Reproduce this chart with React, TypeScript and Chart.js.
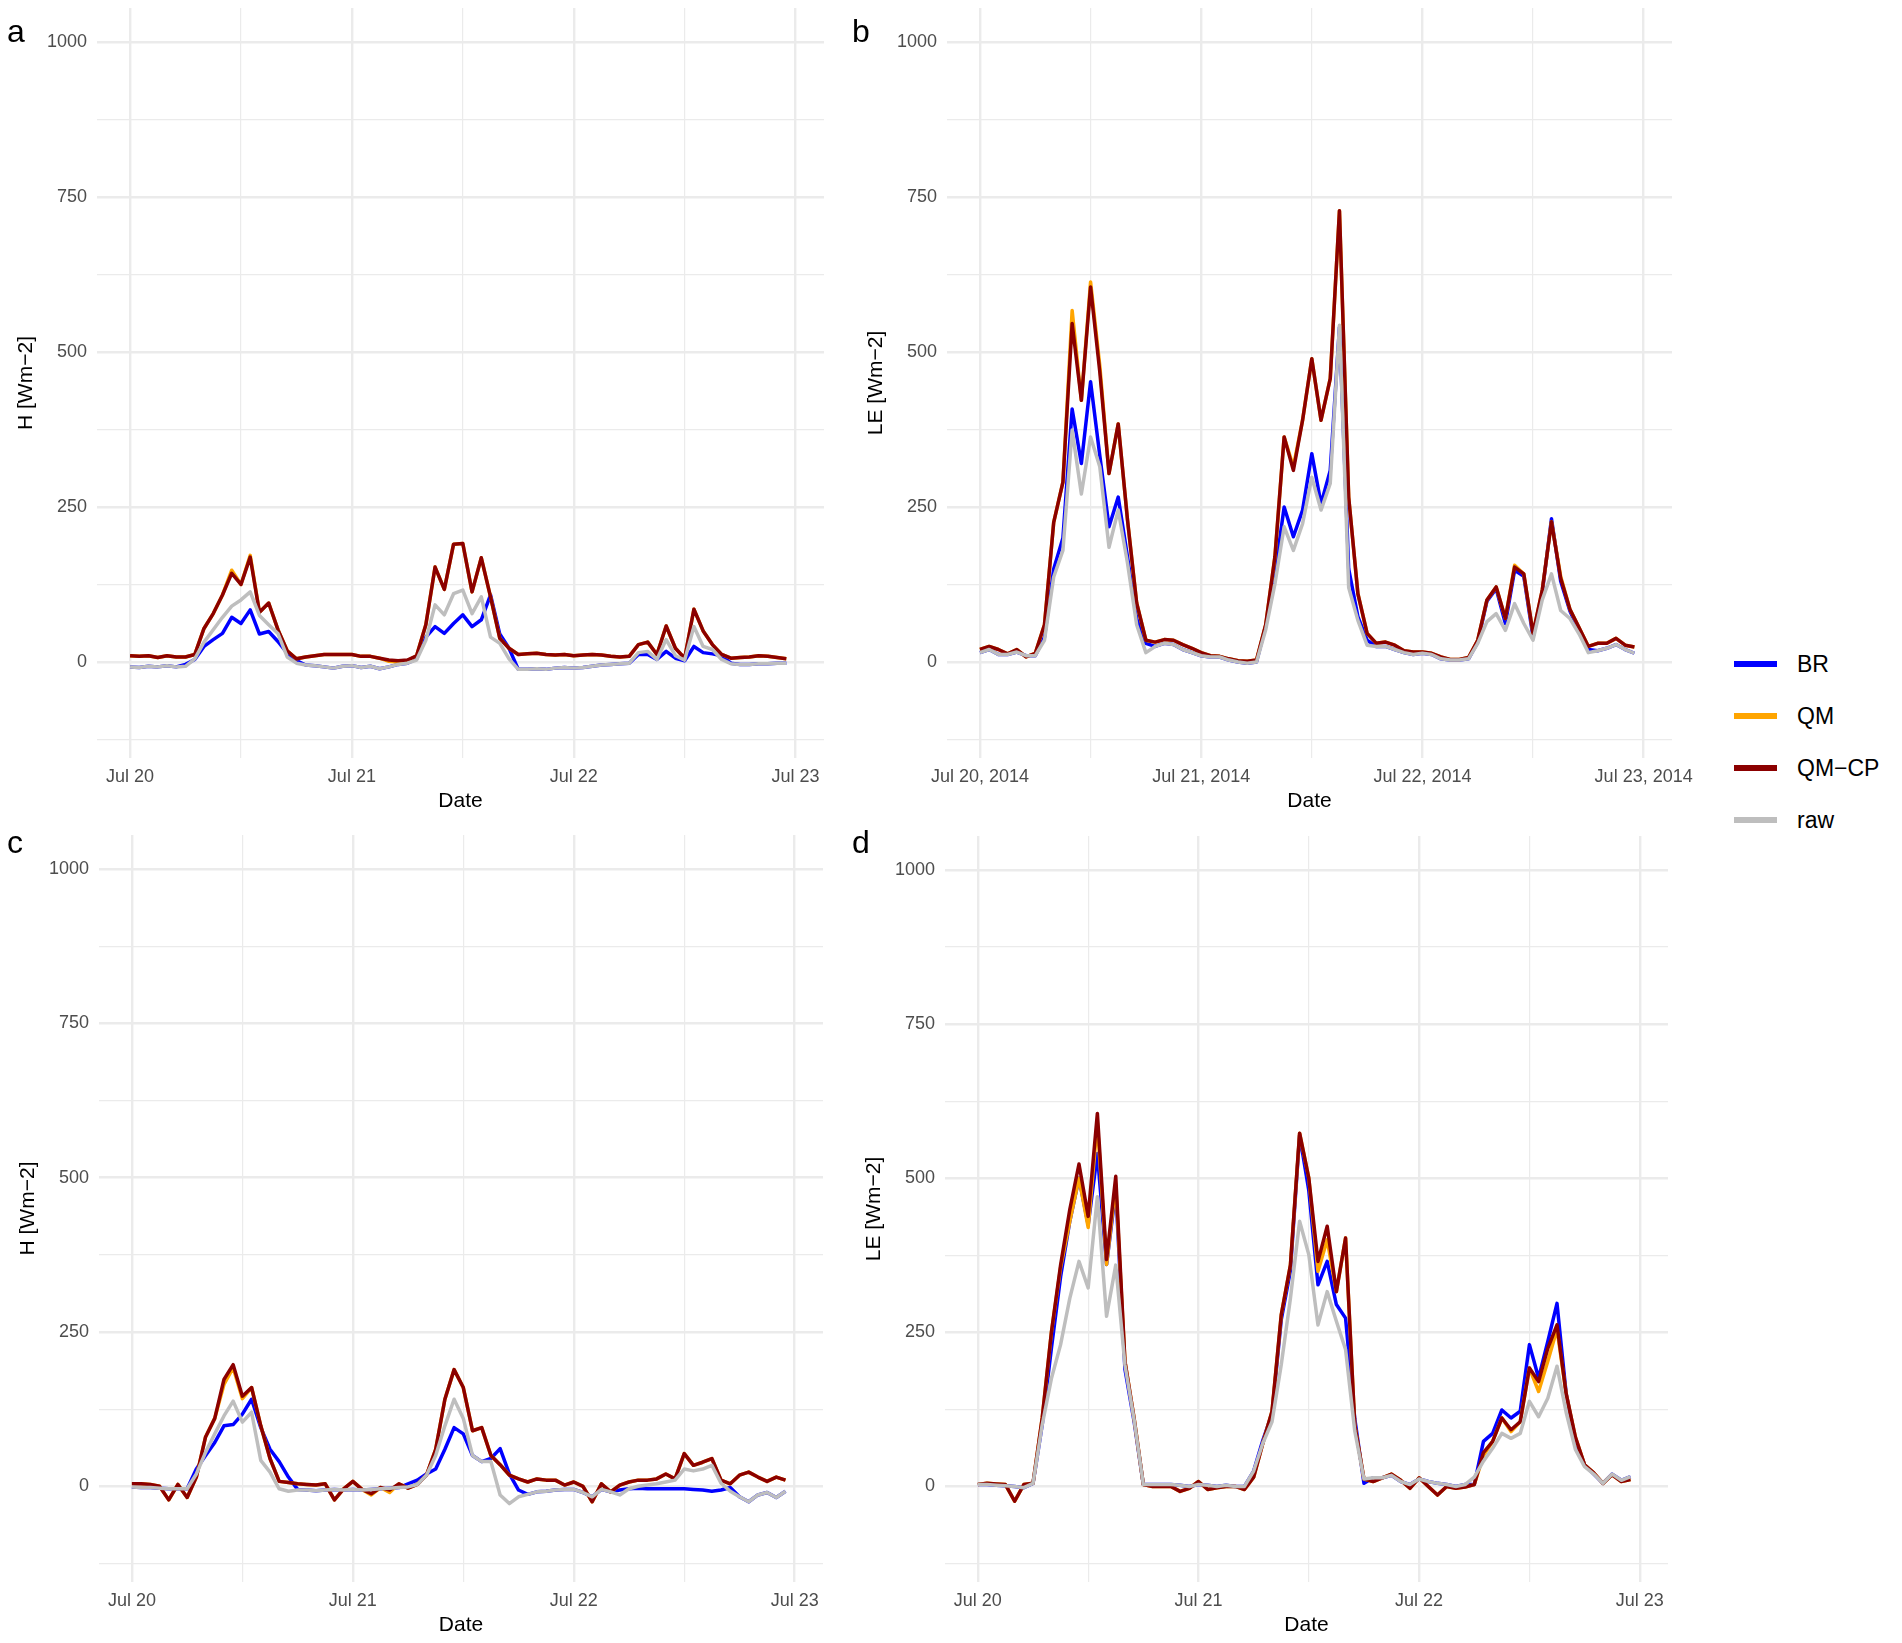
import { useEffect, useRef } from 'react';
import { Chart, registerables } from 'chart.js';

Chart.register(...registerables);

// half-hourly fluxes shown here at hourly steps, hours since Jul 20 00:00
const HOURS = [
  0, 1, 2, 3, 4, 5, 6, 7, 8, 9, 10, 11, 12, 13, 14, 15, 16, 17, 18, 19, 20, 21, 22, 23,
  24, 25, 26, 27, 28, 29, 30, 31, 32, 33, 34, 35, 36, 37, 38, 39, 40, 41, 42, 43, 44, 45, 46, 47,
  48, 49, 50, 51, 52, 53, 54, 55, 56, 57, 58, 59, 60, 61, 62, 63, 64, 65, 66, 67, 68, 69, 70, 71,
];

const DAYS_SHORT = ['Jul 20', 'Jul 21', 'Jul 22', 'Jul 23'];
const DAYS_LONG = ['Jul 20, 2014', 'Jul 21, 2014', 'Jul 22, 2014', 'Jul 23, 2014'];

const SERIES = ['BR', 'QM', 'QM\u2212CP', 'raw'];
const COLORS = ['#0000FF', '#FFA500', '#8B0000', '#BEBEBE'];

// panel a : H
const A_BR = [
  -8, -9, -7, -8, -6, -8, -4, 4, 25, 36, 46, 72, 62, 84, 45, 49, 33, 14, 2, -5, -6, -8, -10, -7,
  -6, -9, -7, -11, -8, -4, -2, 5, 40, 57, 46, 62, 76, 57, 68, 108, 45, 22, -12, -12, -11, -12, -10, -9,
  -10, -9, -7, -5, -4, -3, -2, 12, 12, 4, 17, 6, 2, 25, 15, 13, 10, -2, -4, -4, -3, -3, -2, -2,
];
const A_QM = [
  10, 9, 10, 7, 10, 8, 8, 12, 54, 78, 108, 148, 125, 172, 80, 95, 52, 18, 5, 8, 10, 12, 12, 12,
  12, 9, 9, 6, 1, 0, 2, 10, 60, 153, 117, 190, 191, 113, 168, 105, 38, 22, 12, 13, 14, 12, 11, 12,
  10, 11, 12, 11, 9, 8, 9, 28, 32, 12, 58, 22, 6, 85, 50, 28, 12, 6, 7, 8, 10, 9, 7, 5,
];
const A_QMCP = [
  10, 9, 10, 7, 10, 8, 8, 12, 54, 78, 108, 143, 125, 169, 80, 95, 52, 18, 5, 8, 10, 12, 12, 12,
  12, 9, 9, 6, 3, 2, 3, 10, 60, 153, 117, 190, 191, 113, 168, 105, 38, 22, 12, 13, 14, 12, 11, 12,
  10, 11, 12, 11, 9, 8, 9, 28, 32, 12, 58, 22, 6, 85, 50, 28, 12, 6, 7, 8, 10, 9, 7, 5,
];
const A_RAW = [
  -8, -9, -7, -8, -6, -8, -7, 5, 32, 52, 72, 90, 100, 113, 75, 60, 46, 8, -2, -5, -6, -8, -10, -7,
  -6, -9, -7, -11, -8, -4, -2, 3, 35, 92, 76, 110, 116, 78, 105, 40, 30, 5, -12, -12, -11, -12, -10, -9,
  -10, -9, -7, -5, -4, -3, -2, 15, 17, 4, 36, 10, 3, 57, 25, 20, 4, -3, -4, -4, -3, -3, -2, -2,
];

// panel b : LE
const B_BR = [
  15, 20, 12, 12, 16, 10, 10, 40, 150, 200, 408, 320, 452, 333, 218, 266, 170, 70, 30, 25, 30, 28, 20, 15,
  10, 8, 8, 3, 0, -2, 0, 58, 142, 250, 202, 245, 336, 255, 309, 540, 150, 73, 35, 25, 25, 20, 15, 12,
  14, 12, 5, 3, 3, 5, 32, 98, 118, 62, 148, 138, 40, 112, 231, 130, 82, 50, 20, 18, 22, 28, 20, 14,
];
const B_QM = [
  20, 25, 20, 13, 20, 8, 14, 60, 225, 290, 567, 422, 613, 478, 304, 384, 230, 95, 35, 32, 36, 35, 28, 22,
  15, 10, 9, 5, 2, 1, 3, 60, 170, 363, 315, 390, 489, 390, 457, 728, 266, 110, 46, 30, 32, 27, 18, 16,
  16, 14, 8, 4, 4, 7, 35, 100, 121, 70, 156, 142, 46, 116, 226, 138, 85, 55, 25, 30, 30, 38, 27, 24,
];
const B_QMCP = [
  20, 25, 20, 13, 20, 8, 14, 60, 225, 290, 546, 422, 605, 468, 304, 384, 230, 95, 35, 32, 36, 35, 28, 22,
  15, 10, 9, 5, 2, 1, 3, 60, 170, 363, 309, 390, 489, 390, 457, 728, 266, 110, 46, 30, 32, 27, 18, 16,
  16, 14, 8, 4, 4, 7, 35, 100, 121, 70, 153, 142, 46, 116, 226, 135, 85, 55, 25, 30, 30, 38, 27, 24,
];
const B_RAW = [
  15, 20, 12, 12, 16, 10, 10, 35, 137, 180, 374, 271, 363, 315, 185, 245, 160, 60, 15, 25, 30, 28, 20, 15,
  10, 8, 8, 3, 0, -2, 0, 52, 126, 218, 180, 223, 298, 245, 288, 543, 120, 67, 27, 25, 25, 20, 15, 12,
  14, 12, 5, 3, 3, 5, 30, 65, 78, 51, 94, 62, 35, 100, 142, 83, 70, 45, 15, 18, 22, 28, 20, 14,
];

// panel c : H
const C_BR = [
  -1, -2, -2, -3, -4, -4, -4, 28, 50, 71, 98, 100, 117, 141, 95, 60, 40, 15, -5, -6, -7, -6, -5, -6,
  -5, -6, -5, -4, -3, -2, 4, 10, 20, 28, 60, 95, 85, 50, 40, 45, 61, 20, -6, -13, -9, -8, -6, -5,
  -5, -10, -17, -5, -9, -6, -4, -3, -4, -4, -4, -4, -4, -5, -6, -8, -6, -2, -17, -25, -14, -10, -18, -8,
];
const C_QM = [
  4, 4, 3, 0, -22, 3, -18, 15, 80, 110, 165, 192, 142, 160, 98, 45, 8, 6, 4, 3, 2, 4, -22, -4,
  8, -5, -14, -2, -10, 4, -3, 3, 18, 60, 141, 189, 160, 90, 95, 50, 35, 18, 12, 7, 12, 10, 10, 2,
  7, 0, -25, 4, -9, 2, 7, 10, 10, 12, 20, 12, 53, 34, 39, 45, 10, 4, 18, 23, 15, 8, 15, 10,
];
const C_QMCP = [
  4, 4, 3, 0, -22, 3, -18, 15, 80, 110, 173, 197, 146, 160, 98, 45, 8, 6, 4, 3, 2, 4, -22, -4,
  8, -5, -12, -2, -6, 4, -3, 3, 18, 60, 141, 189, 160, 90, 95, 50, 35, 18, 12, 7, 12, 10, 10, 2,
  7, 0, -25, 4, -9, 2, 7, 10, 10, 12, 20, 12, 53, 34, 39, 45, 10, 4, 18, 23, 15, 8, 15, 10,
];
const C_RAW = [
  -1, -2, -2, -3, -4, -4, -4, 20, 55, 85, 114, 138, 104, 120, 42, 23, -4, -8, -6, -6, -7, -6, -5, -6,
  -5, -6, -5, -4, -3, -2, -1, 3, 18, 50, 98, 141, 110, 50, 40, 40, -14, -28, -17, -13, -9, -8, -6, -5,
  -5, -10, -17, -5, -9, -14, -4, 0, 2, 4, 7, 10, 28, 25, 28, 34, 5, -8, -17, -25, -14, -10, -18, -8,
];

// panel d : LE
const D_BR = [
  3, 3, 2, 1, 0, -2, 5, 100, 224, 340, 430, 500, 424, 540, 360, 480, 190, 105, 3, 3, 3, 3, 2, 0,
  3, 2, 0, 2, 0, 0, 25, 75, 118, 270, 350, 570, 480, 327, 365, 295, 273, 110, 5, 14, 14, 18, 8, 3,
  12, 8, 5, 3, 0, 3, 3, 73, 86, 124, 111, 122, 230, 176, 235, 297, 150, 75, 35, 20, 5, 20, 10, 16,
];
const D_QM = [
  3, 5, 4, 3, -24, 3, 5, 111, 250, 355, 430, 500, 420, 590, 360, 490, 203, 110, 3, 0, 0, 0, -8, -3,
  8, -5, -2, 0, 0, -5, 15, 70, 122, 278, 359, 573, 500, 349, 400, 316, 403, 100, 12, 8, 14, 20, 10, -3,
  14, 0, -14, 0, -3, -1, 3, 50, 73, 111, 89, 105, 192, 154, 203, 255, 150, 80, 35, 22, 5, 19, 8, 11,
];
const D_QMCP = [
  3, 5, 4, 3, -24, 3, 5, 111, 250, 359, 449, 523, 438, 605, 368, 503, 203, 110, 3, 0, 0, 0, -8, -3,
  8, -5, -2, 0, 0, -5, 15, 70, 122, 278, 359, 573, 500, 365, 422, 316, 403, 100, 12, 8, 14, 20, 10, -3,
  14, 0, -14, 0, -3, -1, 3, 55, 73, 111, 92, 105, 192, 170, 224, 262, 150, 80, 35, 22, 5, 19, 8, 11,
];
const D_RAW = [
  3, 3, 2, 1, 0, -2, 5, 100, 175, 230, 305, 365, 322, 470, 276, 359, 197, 108, 3, 3, 3, 3, 2, 0,
  3, 2, 0, 2, 0, 0, 25, 70, 105, 197, 305, 430, 376, 262, 316, 268, 222, 90, 12, 14, 14, 18, 8, 3,
  12, 8, 5, 3, 0, 3, 15, 41, 62, 86, 78, 86, 138, 113, 143, 195, 120, 60, 32, 20, 5, 20, 10, 16,
];

const FONT = '"Liberation Sans", Arial, sans-serif';

interface PanelProps {
  left: number;
  top: number;
  width: number;
  height: number;
  padTop: number;
  padRight: number;
  yTitle: string;
  days: string[];
  series: number[][];
}

function Panel({ left, top, width, height, padTop, padRight, yTitle, days, series }: PanelProps) {
  const canvasRef = useRef<HTMLCanvasElement>(null);

  useEffect(() => {
    if (!canvasRef.current) return;
    const ctx = canvasRef.current.getContext('2d');
    if (!ctx) return;

    // raw on top, then QM-CP, QM, BR underneath (ggplot draw order)
    const drawOrder = [3, 2, 1, 0];

    const chart = new Chart(ctx, {
      type: 'line',
      data: {
        datasets: series.map((vals, k) => ({
          label: SERIES[k],
          data: vals.map((v, i) => ({ x: HOURS[i], y: v })),
          borderColor: COLORS[k],
          backgroundColor: COLORS[k],
          borderWidth: 3.5,
          pointRadius: 0,
          tension: 0,
          borderJoinStyle: 'round' as const,
          order: drawOrder[k],
        })),
      },
      options: {
        animation: false,
        responsive: true,
        maintainAspectRatio: false,
        layout: { padding: { top: padTop, right: padRight, left: 0, bottom: 0 } },
        plugins: {
          legend: { display: false },
          tooltip: { enabled: false },
        },
        scales: {
          x: {
            type: 'linear',
            min: -3.575,
            max: 75.075,
            border: { display: false },
            grid: {
              drawTicks: false,
              color: '#EBEBEB',
              lineWidth: (c: any) => (c.tick && c.tick.value % 24 === 0 ? 2.4 : 1.2),
            },
            ticks: {
              stepSize: 12,
              includeBounds: false,
              autoSkip: false,
              maxRotation: 0,
              padding: 8,
              color: '#4D4D4D',
              font: { family: FONT, size: 18 },
              callback: (v: any) => (Number(v) % 24 === 0 ? days[Number(v) / 24] : ''),
            },
            title: {
              display: true,
              text: 'Date',
              color: '#000000',
              font: { family: FONT, size: 21 },
              padding: { top: 0, bottom: 6 },
            },
            afterFit: (s: any) => {
              s.height = 62;
              s.paddingLeft = 0;
              s.paddingRight = 0;
            },
          },
          y: {
            min: -155,
            max: 1055,
            border: { display: false },
            grid: {
              drawTicks: false,
              color: '#EBEBEB',
              lineWidth: (c: any) => (c.tick && c.tick.value % 250 === 0 ? 2.4 : 1.2),
            },
            ticks: {
              stepSize: 125,
              includeBounds: false,
              autoSkip: false,
              padding: 10,
              color: '#4D4D4D',
              font: { family: FONT, size: 18 },
              callback: (v: any) => (Number(v) % 250 === 0 ? String(v) : ''),
            },
            title: {
              display: true,
              text: yTitle,
              color: '#000000',
              font: { family: FONT, size: 21 },
              padding: { top: 14, bottom: 0 },
            },
            afterFit: (s: any) => {
              s.width = 97;
              s.paddingTop = 0;
              s.paddingBottom = 0;
            },
          },
        },
      },
    });

    return () => {
      chart.destroy();
    };
  }, [padTop, padRight, yTitle, days, series]);

  return (
    <div style={{ position: 'absolute', left, top, width, height }}>
      <canvas ref={canvasRef}></canvas>
    </div>
  );
}

const letterStyle = (left: number, top: number): React.CSSProperties => ({
  position: 'absolute',
  left,
  top,
  fontFamily: FONT,
  fontSize: 32,
  lineHeight: '32px',
  color: '#000000',
});

export default function App() {
  return (
    <div style={{ position: 'absolute', left: 0, top: 0, width: 1902, height: 1643, background: '#ffffff', overflow: 'hidden' }}>
      <Panel left={0} top={0} width={834} height={820} padTop={8} padRight={10}
        yTitle={'H [Wm\u22122]'} days={DAYS_SHORT} series={[A_BR, A_QM, A_QMCP, A_RAW]} />
      <Panel left={850} top={0} width={847} height={820} padTop={8} padRight={25}
        yTitle={'LE [Wm\u22122]'} days={DAYS_LONG} series={[B_BR, B_QM, B_QMCP, B_RAW]} />
      <Panel left={2} top={827} width={831} height={817} padTop={8} padRight={10}
        yTitle={'H [Wm\u22122]'} days={DAYS_SHORT} series={[C_BR, C_QM, C_QMCP, C_RAW]} />
      <Panel left={848} top={828} width={845} height={816} padTop={8} padRight={25}
        yTitle={'LE [Wm\u22122]'} days={DAYS_SHORT} series={[D_BR, D_QM, D_QMCP, D_RAW]} />

      <div style={letterStyle(7, 15)}>a</div>
      <div style={letterStyle(852, 15)}>b</div>
      <div style={letterStyle(7, 826)}>c</div>
      <div style={letterStyle(852, 826)}>d</div>

      {SERIES.map((name, k) => (
        <div key={name} style={{ position: 'absolute', left: 1734, top: 664 + k * 52 - 15, height: 30, display: 'flex', alignItems: 'center' }}>
          <div style={{ width: 43, height: 6, background: COLORS[k] }}></div>
          <div style={{ marginLeft: 20, fontFamily: FONT, fontSize: 23, color: '#000000' }}>{name}</div>
        </div>
      ))}
    </div>
  );
}
